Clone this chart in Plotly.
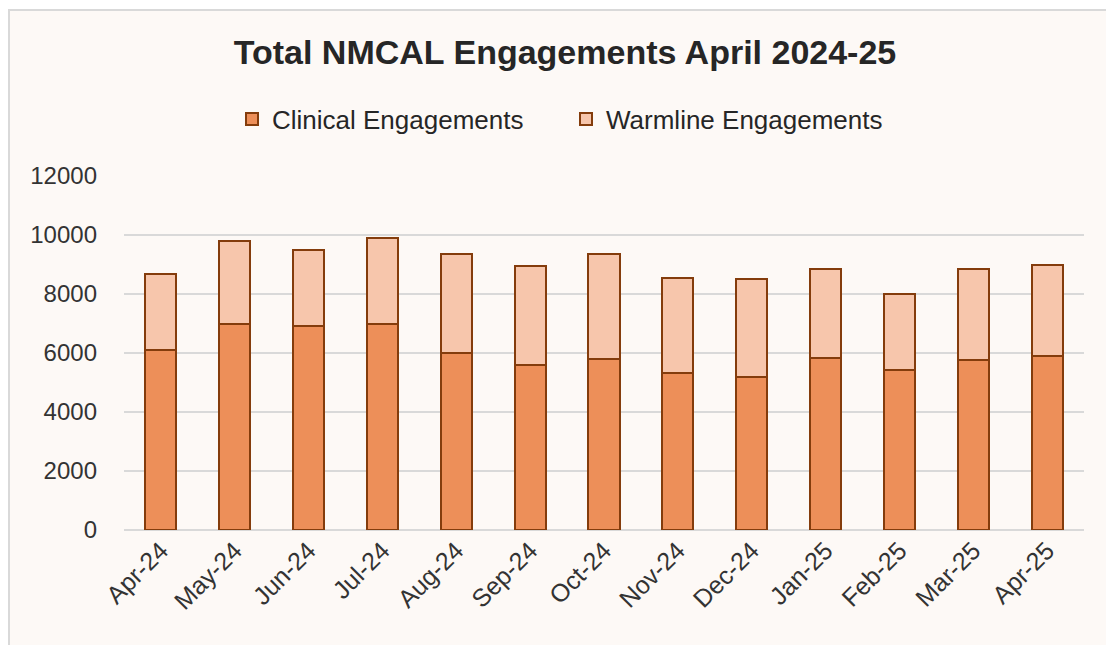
import plotly.graph_objects as go

months = ["Apr-24", "May-24", "Jun-24", "Jul-24", "Aug-24", "Sep-24", "Oct-24",
          "Nov-24", "Dec-24", "Jan-25", "Feb-25", "Mar-25", "Apr-25"]
clinical = [6100, 6970, 6920, 6990, 6000, 5590, 5800, 5310, 5180, 5830, 5420, 5750, 5890]
warmline = [2570, 2820, 2560, 2920, 3360, 3350, 3570, 3240, 3330, 3020, 2570, 3100, 3100]
y_ticks = [0, 2000, 4000, 6000, 8000, 10000, 12000]

OFF = 8  # page body margin
W, H = 1114 - OFF, 645 - OFF
# reference pixel positions of the plot area
PL, PR, PT, PB = 124, 1084, 176, 530
L, T = PL - OFF, PT - OFF
R = W - (PR - OFF)
B = H - (PB - OFF)
pw = PR - PL
ph = PB - PT

outline = "#843C0C"
fig = go.Figure()
fig.add_trace(go.Bar(x=months, y=clinical, name="Clinical Engagements",
                     marker=dict(color="#ED8F59", line=dict(color=outline, width=2))))
fig.add_trace(go.Bar(x=months, y=warmline, name="Warmline Engagements",
                     marker=dict(color="#F7C6AC", line=dict(color=outline, width=2))))

def px_x(p):
    return (p - PL) / pw

def px_y(p):
    return (PB - p) / ph

fig.add_shape(type="rect", xref="paper", yref="paper", layer="below",
              x0=px_x(9), x1=px_x(1140), y0=px_y(670), y1=px_y(10),
              fillcolor="#FDF9F6", line=dict(color="#D9D9D9", width=2))

fig.update_layout(
    width=W, height=H,
    barmode="stack", bargap=0.58,
    paper_bgcolor="white", plot_bgcolor="rgba(0,0,0,0)",
    margin=dict(l=L, r=R, t=T, b=B),
    font=dict(family="Liberation Sans, Arial, sans-serif", color="#333333"),
    title=dict(text="<b>Total NMCAL Engagements April 2024-25</b>",
               x=(565 - OFF) / W, xanchor="center", y=1 - (52 - OFF) / H, yanchor="middle",
               font=dict(size=34, color="#262626")),
    legend=dict(orientation="h", x=px_x(232), xanchor="left",
                y=px_y(119), yanchor="middle",
                font=dict(size=26, color="#262626"),
                entrywidth=289, entrywidthmode="pixels",
                bgcolor="rgba(0,0,0,0)", itemwidth=30, traceorder="normal"),
    showlegend=True,
)
fig.update_xaxes(tickangle=-45, tickfont=dict(size=25, color="#333333"),
                 showgrid=False, showline=False, ticks="", fixedrange=True)
fig.update_yaxes(range=[0, 12000], tickvals=y_ticks, ticktext=[str(v) for v in y_ticks],
                 tickfont=dict(size=24, color="#333333"),
                 showgrid=True, gridcolor="#D9D9D9", gridwidth=1.5,
                 zeroline=True, zerolinecolor="#D9D9D9", zerolinewidth=1.5,
                 showline=False, ticklabelstandoff=26)

fig.write_html("out.html")
